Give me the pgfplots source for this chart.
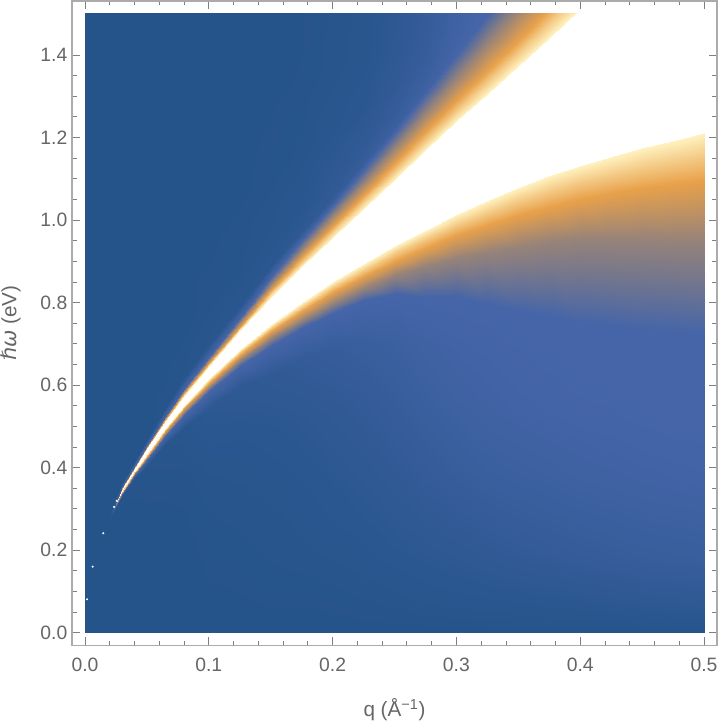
\documentclass[border=0pt]{standalone}
\usepackage{pgfplots}
\pgfplotsset{compat=1.18}
\usepackage{fontspec}
\setmainfont{Liberation Sans}
\newfontfamily\djv{DejaVu Sans}
\definecolor{lab}{HTML}{666666}
\definecolor{spine}{HTML}{ABABAB}
\definecolor{tk}{HTML}{7F7F7F}
\begin{document}
\begin{tikzpicture}[x=1pt,y=1pt]
\useasboundingbox (0,0) rectangle (540,543);
\begin{axis}[
  at={(54pt,58.9pt)},anchor=south west,
  scale only axis,width=483.75pt,height=483.4pt,
  xmin=-0.0105,xmax=0.5105,ymin=-0.031,ymax=1.531,
  xtick={0,0.1,0.2,0.3,0.4,0.5},ytick={0,0.2,0.4,0.6,0.8,1.0,1.2,1.4},
  minor x tick num=4,minor y tick num=3,
  tick align=inside,
  major tick length=6pt,minor tick length=3.4pt,
  tick style={color=tk,line width=0.6pt},
  axis line style={color=spine,line width=1pt},
  tick label style={color=lab,font=\fontsize{14.5}{16}\selectfont},
  xticklabel style={yshift=-6pt},
  /pgf/number format/assume math mode=true,
  /pgf/number format/fixed,/pgf/number format/fixed zerofill,/pgf/number format/precision=1,
  xlabel={q (Å\textsuperscript{−1})},
  ylabel={{\djv\textit{ℏω}} (eV)},
  label style={color=lab,font=\fontsize{15.5}{17}\selectfont},
  xlabel style={yshift=-13pt},
  ylabel style={yshift=8pt},
]
\end{axis}
\begin{axis}[
  at={(63.75pt,68.5pt)},anchor=south west,
  scale only axis,width=464.25pt,height=464pt,
  xmin=0,xmax=0.5,ymin=0,ymax=1.5,
  hide axis,
  point meta min=0,point meta max=4,
  colormap={ds}{rgb255(0)=(37,84,138) rgb255(1)=(69,101,168) rgb255(3)=(232,161,74) rgb255(4)=(255,242,192)},
]
% region below the lower white edge: 24 columns of 11 points
\addplot[surf,shader=interp,point meta=explicit,mesh/ordering=y varies,mesh/rows=11,mesh/cols=24] coordinates {
(0,0)[0] (0,0)[0] (0,0)[0] (0,0)[0] (0,0)[0] (0,0)[0] (0,0)[0] (0,0)[0] (0,0)[0] (0,0)[0] (0,0)[0]
(.02,0)[0] (.02,.03)[0] (.02,.07)[0] (.02,.14)[0] (.02,.2)[0] (.02,.278)[0] (.02,.28)[0] (.02,.281)[0] (.02,.282)[0] (.02,.2825)[0] (.02,.283)[0]
(.03,0)[0] (.03,.034)[0] (.03,.085)[0] (.03,.169)[0] (.03,.237)[0] (.03,.33)[.02] (.03,.338)[1] (.03,.3395)[2] (.03,.341)[3] (.03,.3415)[3.5] (.03,.342)[4]
(.04,0)[0] (.04,.038)[0] (.04,.096)[0] (.04,.192)[0] (.04,.269)[0] (.04,.374)[.03] (.04,.384)[1] (.04,.387)[2] (.04,.39)[3] (.04,.391)[3.5] (.04,.392)[4]
(.05,0)[0] (.05,.042)[0] (.05,.105)[0] (.05,.21)[0] (.05,.294)[.01] (.05,.404)[.05] (.05,.42)[1] (.05,.4245)[2] (.05,.429)[3] (.05,.4305)[3.5] (.05,.432)[4]
(.065,0)[0] (.065,.048)[0] (.065,.119)[0] (.065,.238)[0] (.065,.333)[.02] (.065,.455)[.08] (.065,.476)[1] (.065,.4825)[2] (.065,.489)[3] (.065,.491)[3.5] (.065,.493)[4]
(.08,0)[0] (.08,.053)[0] (.08,.132)[0] (.08,.264)[.01] (.08,.369)[.03] (.08,.497)[.12] (.08,.527)[1] (.08,.5355)[2] (.08,.544)[3] (.08,.547)[3.5] (.08,.55)[4]
(.1,0)[0] (.1,.059)[.01] (.1,.146)[.02] (.1,.293)[.05] (.1,.41)[.1] (.1,.545)[.25] (.1,.585)[1] (.1,.5955)[2] (.1,.606)[3] (.1,.6105)[3.5] (.1,.615)[4]
(.125,0)[0] (.125,.065)[.01] (.125,.162)[.03] (.125,.323)[.07] (.125,.452)[.13] (.125,.596)[.3] (.125,.646)[1] (.125,.66)[2] (.125,.674)[3] (.125,.68)[3.5] (.125,.686)[4]
(.15,0)[0] (.15,.07)[.02] (.15,.174)[.05] (.15,.348)[.1] (.15,.487)[.18] (.15,.626)[.36] (.15,.696)[1] (.15,.7135)[2] (.15,.731)[3] (.15,.7385)[3.5] (.15,.746)[4]
(.175,0)[0] (.175,.074)[.02] (.175,.185)[.07] (.175,.369)[.15] (.175,.517)[.25] (.175,.66)[.45] (.175,.738)[1] (.175,.759)[2] (.175,.78)[3] (.175,.79)[3.5] (.175,.8)[4]
(.2,0)[0] (.2,.078)[.03] (.2,.194)[.1] (.2,.388)[.22] (.2,.543)[.35] (.2,.69)[.55] (.2,.775)[1] (.2,.8)[2] (.2,.825)[3] (.2,.8375)[3.5] (.2,.85)[4]
(.225,0)[0] (.225,.081)[.05] (.225,.202)[.14] (.225,.403)[.3] (.225,.564)[.45] (.225,.705)[.65] (.225,.806)[1] (.225,.835)[2] (.225,.865)[3] (.225,.88)[3.5] (.225,.895)[4]
(.25,0)[0] (.25,.082)[.07] (.25,.206)[.2] (.25,.411)[.4] (.25,.575)[.57] (.25,.7)[.72] (.25,.822)[1] (.25,.867)[2] (.25,.902)[3] (.25,.92)[3.5] (.25,.937)[4]
(.275,0)[0] (.275,.082)[.1] (.275,.204)[.25] (.275,.408)[.5] (.275,.571)[.7] (.275,.693)[.82] (.275,.815)[1] (.275,.89)[2] (.275,.933)[3] (.275,.954)[3.5] (.275,.975)[4]
(.3,0)[0] (.3,.081)[.12] (.3,.203)[.3] (.3,.407)[.6] (.3,.569)[.8] (.3,.691)[.9] (.3,.813)[1] (.3,.908)[2] (.3,.963)[3] (.3,.988)[3.5] (.3,1.013)[4]
(.325,0)[0] (.325,.08)[.14] (.325,.199)[.36] (.325,.399)[.68] (.325,.558)[.86] (.325,.677)[.93] (.325,.797)[1] (.325,.922)[2] (.325,.989)[3] (.325,1.018)[3.5] (.325,1.047)[4]
(.35,0)[0] (.35,.078)[.16] (.35,.195)[.42] (.35,.39)[.72] (.35,.545)[.9] (.35,.662)[.96] (.35,.779)[1] (.35,.936)[2] (.35,1.013)[3] (.35,1.046)[3.5] (.35,1.079)[4]
(.375,0)[0] (.375,.077)[.18] (.375,.192)[.46] (.375,.384)[.76] (.375,.537)[.93] (.375,.652)[.98] (.375,.767)[1] (.375,.947)[2] (.375,1.033)[3] (.375,1.07)[3.5] (.375,1.107)[4]
(.4,0)[0] (.4,.075)[.2] (.4,.188)[.5] (.4,.376)[.8] (.4,.526)[.95] (.4,.639)[1] (.4,.752)[1] (.4,.955)[2] (.4,1.052)[3] (.4,1.092)[3.5] (.4,1.132)[4]
(.425,0)[0] (.425,.074)[.23] (.425,.186)[.54] (.425,.372)[.83] (.425,.521)[.96] (.425,.632)[1] (.425,.744)[1] (.425,.954)[2] (.425,1.066)[3] (.425,1.11)[3.5] (.425,1.154)[4]
(.45,0)[0] (.45,.073)[.26] (.45,.184)[.58] (.45,.367)[.86] (.45,.514)[.98] (.45,.624)[1] (.45,.734)[1] (.45,.954)[2] (.45,1.077)[3] (.45,1.1255)[3.5] (.45,1.174)[4]
(.475,0)[0] (.475,.073)[.28] (.475,.182)[.6] (.475,.364)[.88] (.475,.51)[1] (.475,.619)[1] (.475,.728)[1] (.475,.953)[2] (.475,1.088)[3] (.475,1.1405)[3.5] (.475,1.193)[4]
(.5,0)[0] (.5,.072)[.3] (.5,.18)[.62] (.5,.361)[.9] (.5,.505)[1] (.5,.613)[1] (.5,.721)[1] (.5,.951)[2] (.5,1.098)[3] (.5,1.1545)[3.5] (.5,1.211)[4]
};
% region above the upper white edge: 20 columns of 10 points
\addplot[surf,shader=interp,point meta=explicit,mesh/ordering=y varies,mesh/rows=10,mesh/cols=20] coordinates {
(0,0)[0] (0,0)[0] (0,0)[0] (0,0)[0] (0,0)[0] (0,.1)[0] (0,.3)[0] (0,.6)[0] (0,1)[0] (0,1.55)[0]
(.02,.283)[0] (.02,.2832)[0] (.02,.2834)[0] (.02,.2836)[0] (.02,.284)[0] (.02,.29)[0] (.02,.6)[0] (.02,.9)[0] (.02,1.2)[0] (.02,1.55)[0]
(.03,.35)[4] (.03,.3505)[3.5] (.03,.351)[3] (.03,.3525)[2] (.03,.354)[1] (.03,.362)[0] (.03,.521)[0] (.03,.812)[0] (.03,1.15)[0] (.03,1.55)[0]
(.04,.402)[4] (.04,.4025)[3.5] (.04,.403)[3] (.04,.405)[2] (.04,.407)[1] (.04,.418)[0] (.04,.571)[0] (.04,.844)[0] (.04,1.172)[0] (.04,1.55)[0]
(.05,.449)[4] (.05,.45)[3.5] (.05,.451)[3] (.05,.453)[2] (.05,.455)[1] (.05,.47)[.01] (.05,.612)[0] (.05,.873)[0] (.05,1.187)[0] (.05,1.55)[0]
(.065,.513)[4] (.065,.5145)[3.5] (.065,.516)[3] (.065,.5195)[2] (.065,.523)[1] (.065,.545)[.03] (.065,.671)[0] (.065,.915)[0] (.065,1.208)[0] (.065,1.55)[0]
(.08,.575)[4] (.08,.5775)[3.5] (.08,.58)[3] (.08,.585)[2] (.08,.59)[1] (.08,.62)[.06] (.08,.727)[.01] (.08,.954)[0] (.08,1.227)[0] (.08,1.55)[0]
(.1,.647)[4] (.1,.6505)[3.5] (.1,.654)[3] (.1,.6615)[2] (.1,.669)[1] (.1,.7)[.1] (.1,.796)[.03] (.1,1.003)[0] (.1,1.252)[0] (.1,1.55)[0]
(.125,.733)[4] (.125,.7375)[3.5] (.125,.742)[3] (.125,.7525)[2] (.125,.763)[1] (.125,.793)[.14] (.125,.873)[.05] (.125,1.057)[.01] (.125,1.279)[0] (.125,1.55)[0]
(.15,.815)[4] (.15,.8225)[3.5] (.15,.83)[3] (.15,.8465)[2] (.15,.863)[1] (.15,.889)[.2] (.15,.955)[.1] (.15,1.11)[.03] (.15,1.305)[.01] (.15,1.55)[0]
(.175,.889)[4] (.175,.8995)[3.5] (.175,.91)[3] (.175,.9305)[2] (.175,.951)[1] (.175,.975)[.28] (.175,1.03)[.15] (.175,1.162)[.06] (.175,1.331)[.02] (.175,1.55)[.01]
(.2,.96)[4] (.2,.9735)[3.5] (.2,.987)[3] (.2,1.0125)[2] (.2,1.038)[1] (.2,1.055)[.42] (.2,1.1)[.3] (.2,1.212)[.14] (.2,1.356)[.07] (.2,1.55)[.05]
(.225,1.03)[4] (.225,1.046)[3.5] (.225,1.062)[3] (.225,1.0935)[2] (.225,1.125)[1] (.225,1.14)[.55] (.225,1.18)[.38] (.225,1.27)[.2] (.225,1.381)[.12] (.225,1.55)[.1]
(.25,1.1)[4] (.25,1.119)[3.5] (.25,1.138)[3] (.25,1.1765)[2] (.25,1.215)[1] (.25,1.226)[.7] (.25,1.255)[.55] (.25,1.325)[.38] (.25,1.408)[.28] (.25,1.55)[.25]
(.275,1.17)[4] (.275,1.1915)[3.5] (.275,1.213)[3] (.275,1.259)[2] (.275,1.305)[1] (.275,1.312)[.85] (.275,1.332)[.72] (.275,1.38)[.58] (.275,1.438)[.5] (.275,1.55)[.45]
(.3,1.24)[4] (.3,1.264)[3.5] (.3,1.288)[3] (.3,1.344)[2] (.3,1.4)[1] (.3,1.404)[.98] (.3,1.415)[.95] (.3,1.44)[.88] (.3,1.47)[.82] (.3,1.55)[.8]
(.325,1.307)[4] (.325,1.3345)[3.5] (.325,1.362)[3] (.325,1.4295)[2] (.325,1.497)[1] (.325,1.5)[1] (.325,1.52)[1] (.325,1.55)[1] (.325,1.58)[1] (.325,1.62)[1]
(.35,1.375)[4] (.35,1.405)[3.5] (.35,1.435)[3] (.35,1.515)[2] (.35,1.595)[1] (.35,1.6)[1] (.35,1.62)[1] (.35,1.65)[1] (.35,1.68)[1] (.35,1.7)[1]
(.375,1.443)[4] (.375,1.477)[3.5] (.375,1.511)[3] (.375,1.607)[2] (.375,1.703)[1] (.375,1.71)[1] (.375,1.72)[1] (.375,1.73)[1] (.375,1.74)[1] (.375,1.75)[1]
(.4,1.511)[4] (.4,1.551)[3.5] (.4,1.591)[3] (.4,1.711)[2] (.4,1.811)[1] (.4,1.82)[1] (.4,1.83)[1] (.4,1.84)[1] (.4,1.85)[1] (.4,1.86)[1]
};
\addplot[only marks,mark=*,mark size=0.55pt,color=white] coordinates {(.0017,.081) (.0062,.16) (.0148,.241) (.0235,.305) (.0256,.32)};
\end{axis}
\end{tikzpicture}
\end{document}
